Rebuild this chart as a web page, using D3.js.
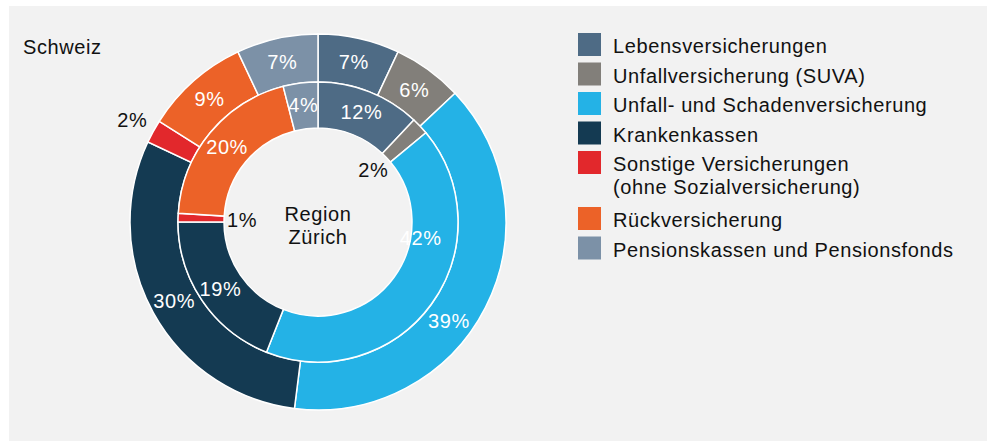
<!DOCTYPE html>
<html>
<head>
<meta charset="utf-8">
<script src="https://cdn.jsdelivr.net/npm/d3@7"></script>
<style>
  body { margin: 0; background: #fff; }
  svg { display: block; font-family: "Liberation Sans", Arial, Helvetica, sans-serif; letter-spacing: 0.6px; }
</style>
</head>
<body>
<div id="chart"></div>
<script>
// categories and shares (percent)
const categories = [
    "Lebensversicherungen",
    "Unfallversicherung (SUVA)",
    "Unfall- und Schadenversicherung",
    "Krankenkassen",
    "Sonstige Versicherungen\n(ohne Sozialversicherung)",
    "Rückversicherung",
    "Pensionskassen und Pensionsfonds"
];
const schweiz = [7, 6, 39, 30, 2, 9, 7];
const zuerich = [12, 2, 42, 19, 1, 20, 4];
const colors = ["#4e6b85", "#827f7a", "#24b2e6", "#143a52", "#e2282c", "#ec6228", "#7c91a7"];

const width = 987,
    height = 441,
    cx = 318,
    cy = 222,
    fs = 20;

// label angle nudges (degrees), only where the original moved them
const outerNudge = { 2: 10 };
const innerNudge = { 2: -27 };

const svg = d3.select('#chart').append('svg')
    .attr('width', width)
    .attr('height', height);

svg.append('rect')
    .attr('x', 9).attr('y', 6)
    .attr('width', width - 9).attr('height', height - 6)
    .attr('fill', '#f2f2f2');

const pie = d3.pie().sort(null).value(d => d);
const g = svg.append('g').attr('transform', `translate(${cx},${cy})`);

function drawRing(values, r0, r1, nudge, labelR, smallR) {
    const arcs = pie(values);
    const arc = d3.arc().innerRadius(r0).outerRadius(r1);
    g.append('g').selectAll('path')
        .data(arcs)
        .join('path')
        .attr('d', arc)
        .attr('fill', (d, i) => colors[i])
        .attr('stroke', '#fff')
        .attr('stroke-width', 1.5);

    g.append('g').selectAll('text')
        .data(arcs)
        .join('text')
        .attr('transform', (d, i) => {
            let a = (d.startAngle + d.endAngle) / 2 + (nudge[i] || 0) * Math.PI / 180;
            let r = d.value <= 2 ? smallR : labelR;
            if (i == 2 && nudge[i] < 0) r = labelR - 14;
            return `translate(${r * Math.sin(a)},${-r * Math.cos(a)})`;
        })
        .attr('text-anchor', 'middle')
        .attr('dy', '0.36em')
        .attr('font-size', fs)
        .attr('fill', d => d.value <= 2 ? '#111' : '#fff')
        .text(d => d.value + '%');
}

drawRing(schweiz, 140, 188, outerNudge, 164, 212);
drawRing(zuerich, 94, 140, innerNudge, 118, 76);

// ring titles
svg.append('text')
    .attr('x', 23).attr('y', 54)
    .attr('font-size', fs).attr('fill', '#111')
    .text('Schweiz');

const centre = svg.append('text')
    .attr('text-anchor', 'middle')
    .attr('font-size', fs).attr('fill', '#111');
centre.append('tspan').attr('x', cx).attr('y', 221).text('Region');
centre.append('tspan').attr('x', cx).attr('y', 244).text('Zürich');

// legend
const legend = svg.append('g');
let rowY = 33;
categories.forEach((c, i) => {
    const lines = c.split('\n');
    legend.append('rect')
        .attr('x', 578).attr('y', rowY)
        .attr('width', 23).attr('height', 23)
        .attr('fill', colors[i]);
    const t = legend.append('text')
        .attr('font-size', fs).attr('fill', '#111');
    lines.forEach((l, j) => {
        t.append('tspan')
            .attr('x', 613)
            .attr('y', rowY + 20 + j * 23)
            .text(l);
    });
    rowY += 29.5 + (lines.length - 1) * 26.5;
});
</script>
</body>
</html>
